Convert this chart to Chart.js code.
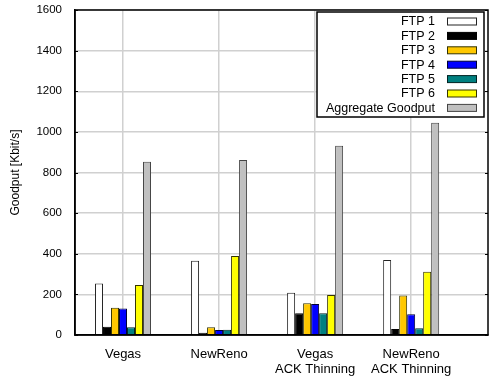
<!DOCTYPE html>
<html>
<head>
<meta charset="utf-8">
<script src="https://cdn.jsdelivr.net/npm/chart.js@4"></script>
<style>
  html, body { margin: 0; padding: 0; background: #fff; }
  #wrap { width: 489px; height: 378px; position: relative; }
</style>
</head>
<body>
<div id="wrap"><canvas id="chart"></canvas></div>
<script>
// values (Kbit/s)
const categories = [["Vegas"], ["NewReno"], ["Vegas", "ACK Thinning"], ["NewReno", "ACK Thinning"]];
const seriesNames = ["FTP 1", "FTP 2", "FTP 3", "FTP 4", "FTP 5", "FTP 6", "Aggregate Goodput"];
const ftp1 = [254, 366, 208, 369];
const ftp2 = [41, 11, 107, 30];
const ftp3 = [134, 38, 156, 195];
const ftp4 = [131, 25, 153, 102];
const ftp5 = [38, 26, 107, 33];
const ftp6 = [246, 389, 197, 312];
const aggregate = [853, 862, 932, 1045];
const yTicks = [0, 200, 400, 600, 800, 1000, 1200, 1400, 1600];

const seriesValues = [ftp1, ftp2, ftp3, ftp4, ftp5, ftp6, aggregate];
const fills = ["#ffffff", "#000000", "#ffc800", "#0000ff", "#008080", "#ffff00", "#c0c0c0"];
const edges = ["#222222", "#000000", "#333300", "#000033", "#002222", "#333300", "#444444"];

const FONT = "'Liberation Sans', Arial, Helvetica, sans-serif";

// border box around the plot, plus small inward ticks
const framePlugin = {
    id: "frame",
    afterDatasetsDraw(chart) {
        const a = chart.chartArea;
        const ctx = chart.ctx;
        const y = chart.scales.y;
        ctx.save();
        ctx.strokeStyle = "#000";
        ctx.lineWidth = 1.5;
        ctx.strokeRect(a.left, a.top, a.right - a.left, a.bottom - a.top);
        ctx.lineWidth = 1;
        yTicks.forEach(v => {
            let py = Math.round(y.getPixelForValue(v)) + 0.5;
            ctx.beginPath();
            ctx.moveTo(a.left, py); ctx.lineTo(a.left + 3, py);
            ctx.moveTo(a.right, py); ctx.lineTo(a.right - 3, py);
            ctx.stroke();
        });
        ctx.restore();
    }
};

// gnuplot-like legend: right-aligned text with the swatch to its right
const legendPlugin = {
    id: "boxLegend",
    afterDraw(chart) {
        const ctx = chart.ctx;
        const bx = 317, by = 12, bw = 167, bh = 105;
        ctx.save();
        ctx.fillStyle = "#fff";
        ctx.fillRect(bx, by, bw, bh);
        ctx.strokeStyle = "#000";
        ctx.lineWidth = 1.5;
        ctx.strokeRect(bx, by, bw, bh);
        ctx.font = "12.5px " + FONT;
        ctx.textAlign = "right";
        ctx.textBaseline = "middle";
        chart.data.datasets.forEach((ds, i) => {
            let cy = 21.5 + i * 14.4;
            ctx.fillStyle = "#000";
            ctx.fillText(ds.label, 435, cy + 0.5);
            ctx.fillStyle = ds.backgroundColor;
            ctx.fillRect(447, cy - 3.5, 30, 7);
            ctx.strokeStyle = ds.borderColor;
            ctx.lineWidth = 1;
            ctx.strokeRect(447.5, cy - 3.5, 29, 7);
        });
        ctx.restore();
    }
};

chartInstance = new Chart(document.getElementById("chart").getContext("2d"), {
    type: "bar",
    data: {
        datasets: seriesNames.map((name, k) => ({
            label: name,
            data: seriesValues[k].map((v, i) => ({ x: i, y: v })),
            backgroundColor: fills[k],
            borderColor: edges[k],
            borderWidth: 1,
            categoryPercentage: 0.583,
            barPercentage: 1
        }))
    },
    options: {
        responsive: true,
        maintainAspectRatio: false,
        animation: false,
        layout: { padding: { top: 10, right: 1, left: 0, bottom: 0 } },
        plugins: {
            legend: { display: false },
            tooltip: { enabled: false }
        },
        scales: {
            x: {
                type: "linear",
                min: -0.5,
                max: 3.8,
                offset: false,
                afterBuildTicks: axis => { axis.ticks = categories.map((c, i) => ({ value: i })); },
                afterFit: axis => { axis.height = 43; axis.paddingLeft = 0; axis.paddingRight = 0; },
                grid: { color: "#d0d0d0", lineWidth: 1.5, drawTicks: false, offset: false },
                border: { color: "#000", width: 1.5 },
                ticks: {
                    autoSkip: false,
                    maxRotation: 0,
                    padding: 12,
                    color: "#000",
                    font: { family: FONT, size: 13, lineHeight: 1.15 },
                    callback: v => categories[v]
                }
            },
            y: {
                min: 0,
                max: 1600,
                afterBuildTicks: axis => { axis.ticks = yTicks.map(v => ({ value: v })); },
                afterFit: axis => { axis.width = 75; axis.paddingTop = 0; axis.paddingBottom = 0; },
                grid: { color: "#d0d0d0", lineWidth: 1.5, drawTicks: false },
                border: { color: "#000", width: 1.5 },
                ticks: {
                    padding: 13,
                    color: "#000",
                    font: { family: FONT, size: 11.5 },
                    callback: v => String(v)
                },
                title: {
                    display: true,
                    text: "Goodput [Kbit/s]",
                    color: "#000",
                    padding: { top: 8, bottom: 0 },
                    font: { family: FONT, size: 12 }
                }
            }
        }
    },
    plugins: [framePlugin, legendPlugin]
});
</script>
</body>
</html>
